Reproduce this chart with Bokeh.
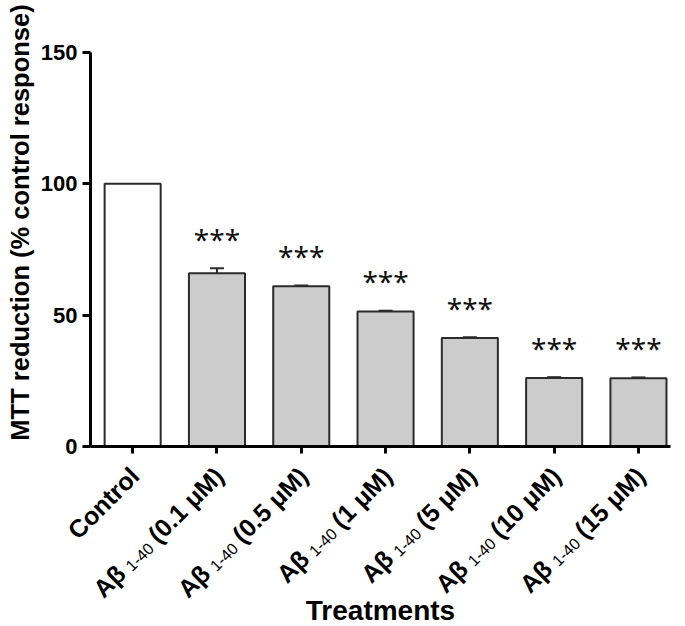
import math
from bokeh.plotting import figure
from bokeh.models import Range1d, FixedTicker, Whisker, ColumnDataSource, TeeHead
from bokeh.core.properties import value
from bokeh.embed import file_html
from bokeh.resources import INLINE

# ---------------- data ----------------
categories = ["Control", "Aβ 1-40 (0.1 μM)", "Aβ 1-40 (0.5 μM)", "Aβ 1-40 (1 μM)",
              "Aβ 1-40 (5 μM)", "Aβ 1-40 (10 μM)", "Aβ 1-40 (15 μM)"]
label_prefix = ["", "Aβ", "Aβ", "Aβ", "Aβ", "Aβ", "Aβ"]
label_sub = ["", "1-40", "1-40", "1-40", "1-40", "1-40", "1-40"]
label_main = ["Control", "(0.1 μM)", "(0.5 μM)", "(1 μM)", "(5 μM)", "(10 μM)", "(15 μM)"]
means = [100.0, 66.0, 61.0, 51.4, 41.3, 26.1, 26.0]
sems = [0.0, 1.9, 0.3, 0.3, 0.3, 0.3, 0.3]
significance = ["", "***", "***", "***", "***", "***", "***"]
y_ticks = [0, 50, 100, 150]
x_title = "Treatments"
y_title = "MTT reduction (% control response)"

FONT = "Liberation Sans"
xs = list(range(len(categories)))
fills = ["#ffffff" if i == 0 else "#cccccc" for i in xs]

# ---------------- layout constants (pixels) ----------------
W, H = 685, 626
FL = 8                     # frame left (y-axis panel holds only the ticks)
FT = 4                     # frame top
AXIS_X = 90                # pixel column of the y axis line
AXIS_Y = 446               # pixel row of the x axis line
AXIS_END = 670             # pixel column where the x axis line ends
TOP = 52                   # pixel row of y = 150
RIGHT_B = 0
PPU = 84.3                 # pixels per category
PPY = (AXIS_Y - TOP) / 150.0
X_LO = -0.5 - (AXIS_X - FL) / PPU
X_HI = X_LO + (W - FL - RIGHT_B) / PPU
X_END = -0.5 + (AXIS_END - AXIS_X) / PPU
Y_LO = -(H - AXIS_Y) / PPY
Y_HI = 150 + (TOP - FT) / PPY

p = figure(width=W, height=H, output_backend="svg", toolbar_location=None,
           x_range=Range1d(X_LO, X_HI), y_range=Range1d(Y_LO, Y_HI),
           x_axis_location="above",
           min_border_left=FL, min_border_right=RIGHT_B,
           min_border_top=FT, min_border_bottom=0)
p.background_fill_color = "white"
p.border_fill_color = "white"
p.outline_line_color = None
p.xgrid.visible = False
p.ygrid.visible = False

src = ColumnDataSource(dict(x=xs, top=means, fill=fills))
p.vbar(x="x", top="top", width=0.665, bottom=0, source=src, fill_color="fill",
       line_color="#2b2b2b", line_width=2)

ex = [x for x, s in zip(xs, sems) if s > 0]
elo = [m for m, s in zip(means, sems) if s > 0]
ehi = [m + s for m, s in zip(means, sems) if s > 0]
esrc = ColumnDataSource(dict(x=ex, lower=elo, upper=ehi))
w = Whisker(base="x", lower="lower", upper="upper", source=esrc, dimension="height",
            line_color="#2b2b2b", line_width=2,
            upper_head=TeeHead(size=14, line_color="#2b2b2b", line_width=2), lower_head=None)
p.add_layout(w)

# significance stars
sx = [x for x, t in zip(xs, significance) if t]
sy = [m + s + 11.2 for m, s, t in zip(means, sems, significance) if t]
st = [t for t in significance if t]
p.text(x=sx, y=sy, text=st, text_font=value("Noto Sans"), text_font_size="28px",
       text_align="center", text_baseline="alphabetic", text_color="#111111")

# ---------------- axes drawn at data locations inside the frame ----------------
for ax in (p.xaxis[0], p.yaxis[0]):
    ax.axis_line_width = 3
    ax.axis_line_color = "black"
    ax.major_tick_line_width = 3
    ax.major_tick_line_color = "black"
    ax.minor_tick_line_color = None
    ax.major_label_text_font_size = "0px"
    ax.major_label_standoff = 0

p.yaxis.fixed_location = -0.5
p.yaxis.bounds = (0, 150)
p.yaxis.ticker = FixedTicker(ticks=y_ticks)
p.yaxis.major_label_overrides = {t: "" for t in y_ticks}
p.yaxis.major_tick_out = 8
p.yaxis.major_tick_in = 0

p.xaxis.fixed_location = 0
p.xaxis.bounds = (-0.5, X_END)
p.xaxis.ticker = FixedTicker(ticks=xs)
p.xaxis.major_label_overrides = {i: "" for i in xs}
p.xaxis.major_tick_out = 0
p.xaxis.major_tick_in = 7

# y tick labels
p.text(x=[-0.5] * len(y_ticks), y=y_ticks, text=[str(t) for t in y_ticks], x_offset=-13,
       text_font=value(FONT), text_font_style="bold", text_font_size="22px",
       text_align="right", text_baseline="middle", text_color="black")

# y title (rotated)
p.text(x=[X_LO + (19 - FL) / PPU], y=[(AXIS_Y - 222) / PPY], text=[y_title],
       angle=math.pi / 2, text_font=value(FONT), text_font_style="bold",
       text_font_size="25.5px", text_align="center", text_baseline="middle",
       text_color="black")

# x title
p.text(x=[(-0.5 + X_END) / 2], y=[-(610 - AXIS_Y) / PPY], text=[x_title],
       text_font=value(FONT), text_font_style="bold", text_font_size="28px",
       text_align="center", text_baseline="middle", text_color="black")

# rotated category labels composed of pieces (main bold, subscript small)
BOLD_W = {'C': .722, 'o': .611, 'n': .611, 't': .333, 'r': .389, 'l': .278, 'A': .722,
          'β': .611, '(': .333, ')': .333, '.': .278, ' ': .278, 'μ': .611, 'M': .833}
REG_W = {'-': .333}


def text_w(s, size, bold=True):
    tot = 0.0
    for ch in s:
        if ch.isdigit():
            tot += .556
        else:
            tot += (BOLD_W if bold else REG_W).get(ch, .556)
    return tot * size


ang = math.radians(45)
c, s_ = math.cos(ang), math.sin(ang)
BIG, SMALL = 25, 16
GAP = 6
AX, AY_DOWN = 2, 25
SUB_SHIFT = 4
sizes = {"bold": BIG, "normal": SMALL}

groups = {"bold": dict(x=[], xo=[], y=[], t=[]), "normal": dict(x=[], xo=[], y=[], t=[])}
for i in xs:
    pieces = []
    if label_prefix[i]:
        pieces.append((label_prefix[i], "bold", 0))
        pieces.append((label_sub[i], "normal", SUB_SHIFT))
    pieces.append((label_main[i], "bold", 0))
    dist = 0.0
    for txt, style, shift in reversed(pieces):
        g = groups[style]
        g["x"].append(i)
        g["xo"].append(AX - dist * c + shift * s_)
        g["y"].append(-(AY_DOWN + dist * s_ + shift * c) / PPY)
        g["t"].append(txt)
        dist += text_w(txt, sizes[style], style == "bold") + GAP

for style, g in groups.items():
    gs = ColumnDataSource(dict(x=g["x"], xo=g["xo"], y=g["y"], t=g["t"]))
    p.text(x="x", y="y", x_offset="xo", text="t", source=gs, angle=ang,
           text_align="right", text_baseline="middle", text_font=value(FONT),
           text_font_style=style, text_font_size=f"{sizes[style]}px", text_color="black")

open("out.html", "w").write(file_html(p, INLINE))
